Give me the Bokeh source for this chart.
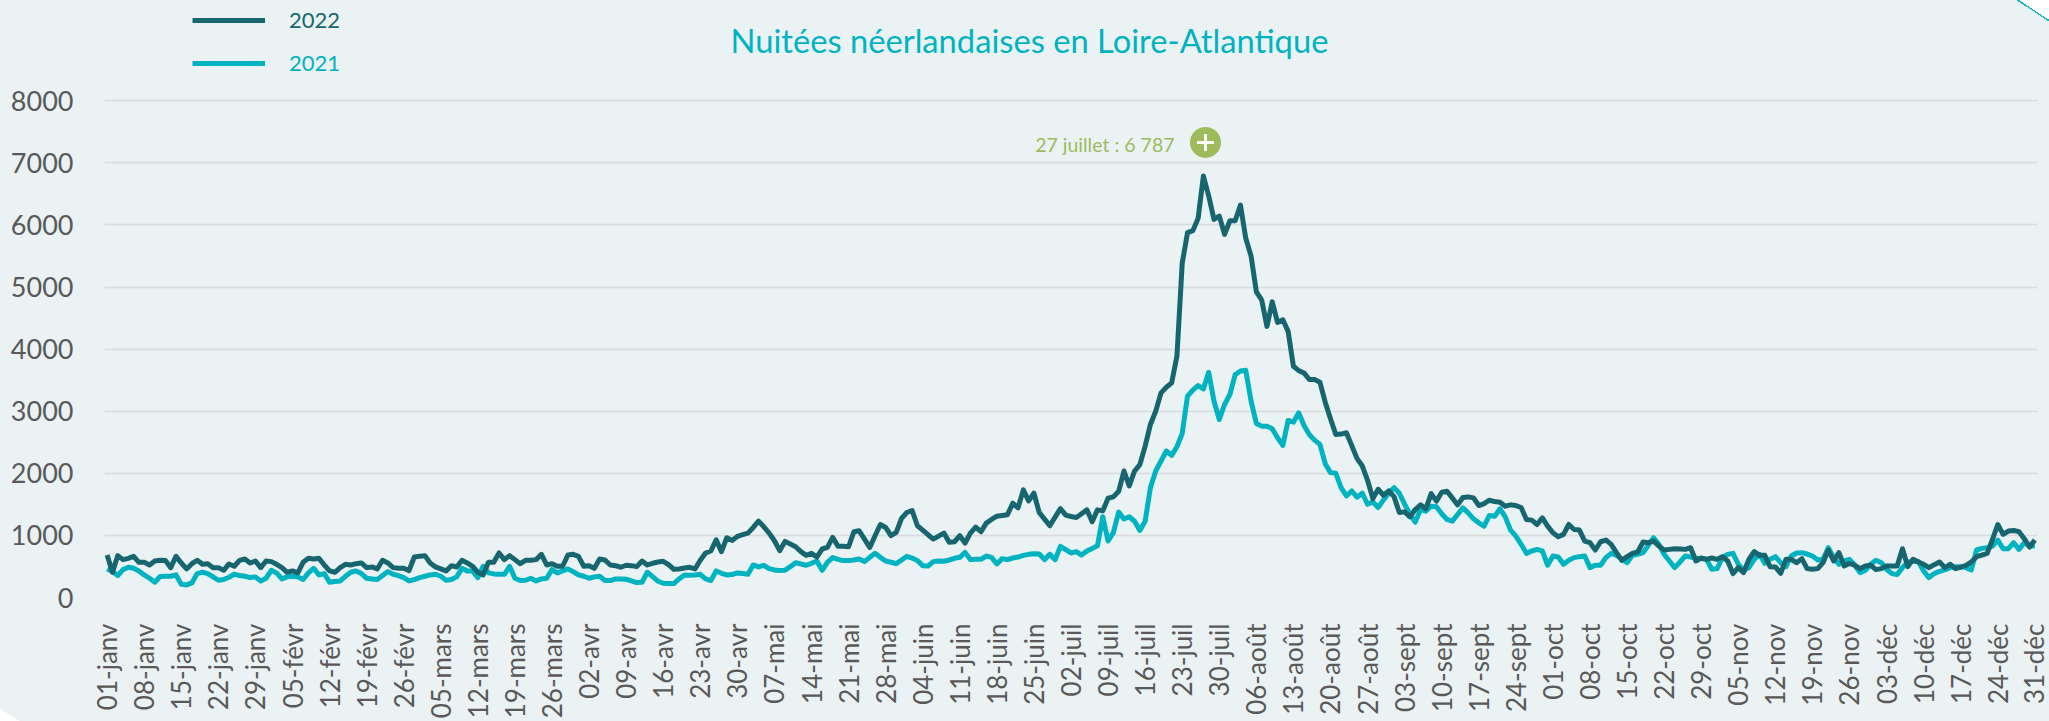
import math
from bokeh.embed import file_html
from bokeh.resources import INLINE
from bokeh.plotting import figure
from bokeh.models import (ColumnDataSource, FixedTicker, Range1d, Legend, LegendItem, Label)

BG = "#EAF2F4"
DARK = "#17666F"
CYAN = "#00B3C1"
GREEN = "#9DBB5A"
GREY = "#595959"

TITLE = "Nuitées néerlandaises en Loire-Atlantique"
PEAK_TEXT = "27 juillet : 6 787"

y_ticks = [0, 1000, 2000, 3000, 4000, 5000, 6000, 7000, 8000]

tick_labels = [
    "01-janv", "08-janv", "15-janv", "22-janv", "29-janv", "05-févr", "12-févr", "19-févr", "26-févr",
    "05-mars", "12-mars", "19-mars", "26-mars", "02-avr", "09-avr", "16-avr", "23-avr", "30-avr",
    "07-mai", "14-mai", "21-mai", "28-mai", "04-juin", "11-juin", "18-juin", "25-juin",
    "02-juil", "09-juil", "16-juil", "23-juil", "30-juil", "06-août", "13-août", "20-août", "27-août",
    "03-sept", "10-sept", "17-sept", "24-sept", "01-oct", "08-oct", "15-oct", "22-oct", "29-oct",
    "05-nov", "12-nov", "19-nov", "26-nov", "03-déc", "10-déc", "17-déc", "24-déc", "31-déc",
]

nuitees_2022 = [
    684, 406, 674, 610, 631, 663, 567, 567, 524, 588,
    599, 594, 481, 663, 556, 460, 545, 599, 535, 545,
    481, 481, 438, 540, 503, 599, 620, 556, 588, 481,
    588, 578, 535, 481, 406, 428, 396, 567, 631, 620,
    631, 524, 428, 406, 481, 535, 524, 545, 556, 481,
    492, 460, 599, 556, 481, 470, 470, 433, 652, 663,
    674, 556, 492, 460, 428, 513, 492, 599, 556, 503,
    406, 364, 567, 567, 717, 610, 674, 610, 545, 599,
    599, 610, 695, 524, 545, 503, 503, 684, 695, 663,
    503, 513, 470, 620, 604, 524, 513, 487, 519, 513,
    497, 588, 524, 551, 572, 583, 529, 455, 460, 476,
    487, 460, 599, 717, 749, 930, 738, 963, 920, 984,
    1011, 1037, 1128, 1230, 1139, 1037, 914, 754, 904, 861,
    818, 738, 679, 711, 652, 781, 807, 968, 824, 824,
    818, 1059, 1075, 941, 807, 995, 1176, 1128, 995, 1048,
    1273, 1369, 1401, 1155, 1086, 1011, 941, 989, 1037, 888,
    898, 995, 877, 1037, 1134, 1059, 1198, 1257, 1310, 1321,
    1332, 1519, 1444, 1733, 1556, 1679, 1369, 1262, 1155, 1294,
    1433, 1326, 1305, 1289, 1348, 1412, 1219, 1412, 1395, 1599,
    1620, 1711, 2037, 1797, 2037, 2139, 2439, 2787, 3001, 3296,
    3387, 3456, 3884, 5383, 5876, 5908, 6106, 6787, 6470, 6090,
    6143, 5849, 6068, 6068, 6320, 5785, 5501, 4923, 4794, 4366,
    4762, 4430, 4473, 4286, 3724, 3654, 3617, 3510, 3510, 3467,
    3146, 2878, 2626, 2632, 2653, 2450, 2241, 2118, 1888, 1593,
    1743, 1647, 1716, 1625, 1368, 1379, 1299, 1417, 1492, 1428,
    1674, 1551, 1695, 1711, 1604, 1492, 1610, 1620, 1604, 1481,
    1513, 1567, 1545, 1535, 1471, 1492, 1481, 1449, 1257, 1246,
    1176, 1283, 1150, 1043, 979, 1016, 1176, 1096, 1086, 909,
    882, 765, 898, 925, 856, 722, 599, 658, 711, 733,
    893, 882, 909, 829, 765, 775, 786, 781, 775, 802,
    588, 636, 615, 636, 615, 658, 588, 385, 481, 401,
    615, 738, 679, 679, 497, 492, 390, 615, 615, 561,
    626, 465, 455, 465, 561, 765, 588, 722, 508, 551,
    519, 465, 508, 519, 449, 465, 508, 508, 508, 786,
    497, 615, 572, 535, 481, 529, 572, 481, 535, 465,
    487, 519, 572, 658, 684, 711, 936, 1176, 1016, 1070,
    1080, 1059, 947, 813, 925,
]

nuitees_2021 = [
    460, 420, 353, 449, 487, 470, 428, 364, 310, 246,
    337, 342, 342, 364, 214, 203, 235, 385, 406, 385,
    332, 278, 289, 326, 374, 353, 342, 321, 332, 267,
    310, 438, 396, 299, 332, 342, 332, 289, 396, 470,
    364, 385, 246, 257, 267, 342, 406, 428, 385, 310,
    299, 289, 353, 417, 374, 353, 321, 267, 289, 321,
    342, 364, 374, 342, 278, 289, 332, 470, 428, 428,
    321, 503, 396, 380, 374, 374, 503, 310, 273, 278,
    310, 267, 299, 310, 449, 396, 428, 460, 417, 364,
    342, 310, 332, 342, 273, 273, 299, 299, 294, 267,
    241, 246, 406, 337, 262, 230, 225, 225, 299, 364,
    358, 364, 374, 299, 273, 428, 390, 364, 369, 396,
    385, 374, 524, 492, 519, 465, 444, 433, 438, 497,
    561, 540, 519, 551, 588, 438, 567, 642, 615, 594,
    594, 604, 620, 578, 647, 711, 647, 588, 567, 545,
    604, 663, 636, 594, 513, 508, 578, 588, 583, 604,
    631, 647, 727, 610, 615, 615, 668, 647, 540, 626,
    610, 636, 652, 679, 695, 706, 700, 610, 695, 610,
    824, 770, 717, 738, 684, 749, 791, 834, 1300, 911,
    1044, 1375, 1265, 1300, 1228, 1080, 1228, 1770, 2037, 2198,
    2359, 2289, 2428, 2642, 3242, 3338, 3413, 3360, 3627, 3162,
    2867, 3108, 3269, 3590, 3649, 3660, 3162, 2803, 2760, 2760,
    2717, 2573, 2450, 2851, 2824, 2974, 2771, 2626, 2535, 2466,
    2155, 2011, 2000, 1770, 1636, 1716, 1615, 1679, 1502, 1540,
    1449, 1572, 1679, 1770, 1679, 1502, 1342, 1214, 1417, 1390,
    1470, 1460, 1348, 1257, 1230, 1337, 1444, 1364, 1267, 1203,
    1150, 1321, 1310, 1428, 1299, 1086, 989, 856, 711, 749,
    775, 749, 519, 668, 652, 535, 599, 642, 658, 668,
    481, 519, 519, 642, 711, 679, 615, 561, 679, 695,
    722, 840, 963, 856, 695, 588, 481, 572, 668, 652,
    636, 626, 615, 455, 465, 642, 695, 711, 535, 444,
    481, 615, 695, 551, 615, 658, 561, 497, 668, 717,
    722, 700, 668, 604, 615, 802, 642, 535, 588, 615,
    519, 401, 438, 535, 599, 561, 455, 385, 369, 481,
    572, 578, 578, 428, 321, 385, 422, 444, 481, 497,
    497, 481, 444, 765, 791, 802, 829, 925, 786, 786,
    882, 775, 882, 829, 829,
]
assert len(nuitees_2022) == 365 and len(nuitees_2021) == 365 and len(tick_labels) == 53

days = list(range(365))
tick_days = days[::7]
peak_day = nuitees_2022.index(max(nuitees_2022))
peak_marker_x = peak_day + 0.4
peak_marker_y = 7330
y_top = 9615

p = figure(width=2049, height=721, output_backend="svg", toolbar_location=None,
           x_range=Range1d(-0.5, 364.5), y_range=Range1d(0, y_top),
           min_border_left=104, min_border_right=12, min_border_top=0, min_border_bottom=122,
           background_fill_color=None, border_fill_color=None, outline_line_color=None)

# Card colour and the two white page corners of the original slide
p.styles = {"background":
            "linear-gradient(to bottom left, #fff calc(50% - 1px), #19B8C6 calc(50% - 1px), "
            "#19B8C6 calc(50% + 0.5px), transparent calc(50% + 0.5px)) top right / 32px 21px no-repeat, "
            "linear-gradient(to top right, #fff 50%, transparent 50%) bottom left / 20px 12px no-repeat, "
            + BG}

src = ColumnDataSource(dict(day=days, y2021=nuitees_2021, y2022=nuitees_2022))
r21 = p.line("day", "y2021", source=src, line_color=CYAN, line_width=5, line_join="round")
r22 = p.line("day", "y2022", source=src, line_color=DARK, line_width=5, line_join="round")

p.xgrid.visible = False
p.ygrid.ticker = FixedTicker(ticks=y_ticks)
p.ygrid.grid_line_color = "#DADADA"
p.ygrid.grid_line_width = 1.6

p.yaxis.ticker = FixedTicker(ticks=y_ticks)
p.yaxis.axis_line_color = None
p.yaxis.major_tick_line_color = None
p.yaxis.minor_tick_line_color = None
p.yaxis.major_label_standoff = 25
p.yaxis.major_label_text_font = "Lato"
p.yaxis.major_label_text_font_size = "27px"
p.yaxis.major_label_text_color = GREY

p.xaxis.ticker = FixedTicker(ticks=tick_days)
p.xaxis.major_label_overrides = dict(zip(tick_days, tick_labels))
p.xaxis.major_label_orientation = math.pi / 2
p.xaxis.axis_line_color = None
p.xaxis.major_tick_line_color = None
p.xaxis.minor_tick_line_color = None
p.xaxis.major_label_standoff = 20
p.xaxis.major_label_text_font = "Lato"
p.xaxis.major_label_text_font_size = "26px"
p.xaxis.major_label_text_color = GREY

for name, rend, col, loc in (("2022", r22, DARK, (88, 564)), ("2021", r21, CYAN, (88, 521))):
    lg = Legend(items=[LegendItem(label=name, renderers=[rend])], location=loc,
                orientation="vertical", background_fill_alpha=0, border_line_alpha=0,
                glyph_width=73, glyph_height=20, label_standoff=24, margin=0, padding=0,
                label_text_color=col, label_text_font="Lato", label_text_font_size="22px")
    p.add_layout(lg, "center")

p.add_layout(Label(x=925, y=557, x_units="screen", y_units="screen", text=TITLE,
                   text_align="center", text_baseline="middle", text_color=CYAN,
                   text_font="Lato", text_font_size="32.7px"))

p.scatter([peak_marker_x], [peak_marker_y], marker="circle", size=31, fill_color=GREEN, line_color=None)
p.scatter([peak_marker_x], [peak_marker_y], marker="cross", size=17, fill_color=None,
          line_color="white", line_width=3)
p.add_layout(Label(x=peak_marker_x, y=peak_marker_y, x_offset=-31, y_offset=-2, text=PEAK_TEXT,
                   text_align="right", text_baseline="middle", text_color=GREEN,
                   text_font="Lato", text_font_size="19.5px"))

open("out.html", "w").write(file_html(p, INLINE))
